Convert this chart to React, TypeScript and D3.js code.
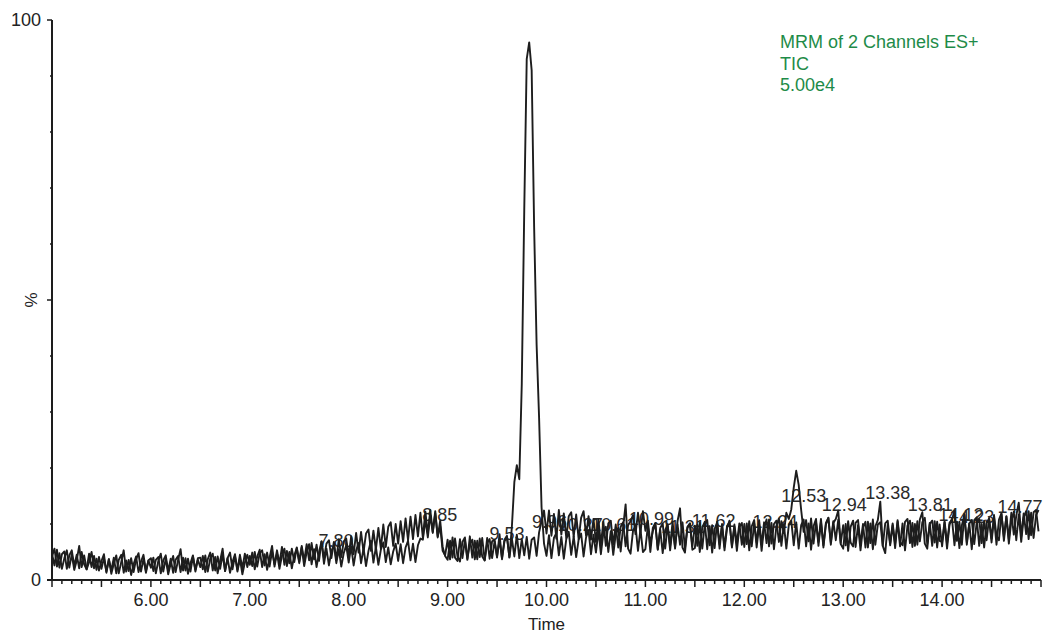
import React from "react";
import * as d3 from "d3";

// ---- data ----
const T0 = 5.0;
const STEP = 0.025;

// Channel 1 (% of 5.00e4), sampled every 0.025 min from 5.00
const channelA: number[] = [
  4.2,5.6,2.4,4.8,2.0,3.9,5.3,2.2,4.6,1.8,3.5,6.1,2.3,4.4,1.9,3.2,5.0,2.1,3.8,1.7,
  3.4,4.6,1.3,3.7,1.1,2.9,4.4,1.2,3.2,5.3,1.5,3.6,0.9,2.8,4.2,1.4,3.3,4.5,1.6,3.5,
  2.2,4.0,1.2,3.4,4.7,1.5,3.8,1.0,2.9,4.3,1.4,3.6,5.5,1.7,3.9,1.1,3.0,4.4,1.5,3.6,
  2.3,4.3,1.4,3.7,4.9,1.7,4.1,1.2,3.4,5.6,1.6,3.9,1.3,3.2,4.6,1.5,3.8,1.0,3.1,4.5,
  2.7,4.9,1.9,4.2,5.4,2.3,4.6,1.8,4.0,6.1,2.4,4.8,2.0,4.3,5.6,2.5,5.0,2.1,4.4,5.7,
  3.0,5.8,2.5,5.0,6.4,2.8,5.5,2.3,4.9,6.9,2.9,5.6,2.6,5.1,6.3,3.0,5.5,2.4,4.8,6.2,
  3.1,6.0,2.6,5.3,6.6,3.0,5.7,2.5,5.2,7.0,3.1,5.9,2.7,5.4,6.7,3.2,5.8,2.8,5.1,6.5,
  3.4,6.4,3.0,5.8,7.0,3.5,6.5,3.2,6.2,7.4,7.2,10.8,7.6,11.6,8.4,11.9,7.6,10.6,5.9,4.3,
  3.6,7.0,4.0,7.4,4.2,3.3,6.8,7.6,3.8,6.4,7.2,3.7,7.0,4.1,7.5,3.5,6.6,7.3,3.9,6.9,
  4.2,7.1,3.9,6.9,7.6,4.1,9.5,17.5,20.5,18.0,35,66,93,96,91,63,42,29,13,6.5,
  4.3,8.0,3.9,7.5,8.4,4.4,7.7,3.8,7.3,8.6,4.5,7.8,4.1,7.2,8.3,4.2,7.6,8.9,4.6,8.1,
  4.9,8.9,4.6,8.4,9.5,5.0,8.7,4.5,8.2,9.3,5.1,9.5,13.5,5.6,4.7,8.8,9.7,5.2,9.1,5.0,
  5.5,9.7,5.0,9.3,10.2,5.4,9.0,4.8,8.9,9.9,5.3,9.4,5.6,10.5,12.8,5.8,4.9,9.3,10.1,5.4,
  5.7,9.9,5.0,9.4,10.4,5.5,9.6,4.9,9.1,10.3,5.6,9.8,5.3,9.2,10.6,5.8,9.5,5.2,9.4,10.2,
  5.9,10.1,5.3,9.6,10.7,5.8,9.9,5.2,9.4,10.8,6.0,10.2,5.5,9.7,11.0,6.1,10.0,5.6,9.8,10.6,
  6.2,10.3,5.6,9.8,10.8,6.0,10.1,5.4,9.6,10.9,6.1,10.4,5.8,9.9,11.1,6.3,10.2,10.9,12.4,6.4,
  5.6,10.0,5.2,9.5,10.6,5.9,9.8,5.3,9.3,10.4,5.8,10.1,5.5,9.6,10.7,14.0,6.1,4.8,9.9,6.2,
  9.8,5.7,10.4,6.0,10.1,5.3,9.7,10.6,5.9,10.0,6.3,10.8,12.1,6.5,5.6,10.2,6.1,10.5,5.8,9.9,
  6.0,10.3,5.6,9.9,10.9,6.2,10.4,5.7,9.8,11.6,6.3,10.1,5.5,10.7,11.2,6.1,10.0,5.8,10.2,11.0,
  6.7,11.1,6.3,10.8,11.9,7.0,11.4,6.5,10.6,12.2,7.1,11.7,6.8,11.2,12.3,7.3,12.0,7.5,11.6,12.5,
];

// Channel 2
const channelB: number[] = [
  4.7,2.6,5.4,2.2,4.6,5.1,2.0,4.4,5.3,2.5,4.5,2.1,5.0,2.8,1.9,4.7,2.3,4.3,1.8,4.1,
  2.0,3.9,1.5,3.7,1.7,4.0,1.2,3.6,4.5,1.3,3.5,1.6,3.9,1.4,3.7,4.8,1.5,3.8,1.3,3.5,
  3.9,1.6,3.6,4.1,1.2,3.5,4.4,1.6,3.8,1.3,3.6,4.3,1.4,4.0,1.7,3.8,1.5,4.2,1.8,3.9,
  4.0,1.9,4.4,1.5,3.8,4.7,1.7,4.2,2.0,4.6,1.6,3.9,4.9,1.9,4.3,1.8,4.5,2.1,4.7,2.3,
  4.3,2.5,5.0,2.4,4.8,5.3,2.6,4.9,2.4,5.1,2.8,5.3,2.9,5.9,2.7,5.2,3.0,5.6,3.2,5.8,
  3.3,6.1,3.4,6.4,3.5,6.6,3.7,6.3,3.4,6.9,3.8,6.5,7.1,3.9,6.8,3.6,7.3,4.1,6.9,7.4,
  4.3,7.8,4.6,8.4,4.9,8.6,5.0,8.3,9.0,5.2,8.8,5.4,9.3,5.6,9.9,5.9,9.5,10.3,6.1,10.0,
  6.5,10.5,6.8,11.0,7.1,11.3,7.3,11.6,7.8,12.0,7.5,12.2,8.3,12.5,8.6,12.3,7.8,9.6,5.2,4.4,
  7.2,3.7,7.6,4.0,3.4,7.3,3.9,7.1,3.6,7.8,4.0,7.0,3.7,7.4,4.2,3.5,7.5,3.8,6.9,7.2,
  4.0,8.2,3.7,7.2,7.9,4.0,7.4,4.2,8.1,3.9,7.3,4.4,7.7,3.8,7.2,7.6,4.3,8.5,10.5,12.4,
  8.3,12.4,7.9,11.8,7.4,12.5,8.1,11.9,7.5,11.4,12.1,7.7,11.7,7.3,11.1,12.3,7.9,11.4,7.2,10.9,
  6.8,10.8,6.4,10.4,6.1,10.1,10.6,6.3,9.9,5.8,9.5,10.3,6.0,9.8,10.5,11.6,8.2,12.0,8.4,12.3,
  8.8,10.6,6.5,8.7,10.0,5.5,9.3,10.1,5.6,9.7,6.1,10.4,5.9,9.9,6.3,10.3,5.7,9.5,10.1,6.0,
  9.7,6.1,10.2,5.6,9.9,10.7,6.2,9.8,5.7,10.4,6.4,10.0,5.9,9.6,10.3,6.1,9.9,6.5,10.1,6.3,
  10.0,6.4,10.5,6.0,10.1,6.7,10.7,6.3,10.3,6.6,10.8,6.5,10.0,10.6,6.8,10.5,8.4,12.0,10.9,12.6,
  16.5,19.5,17.0,12.5,8.6,10.7,6.9,11.0,6.5,10.3,6.8,10.9,6.2,10.2,11.1,6.7,10.5,7.1,10.8,6.6,
  9.8,6.2,10.5,6.7,6.0,10.2,10.7,6.4,10.0,5.8,10.4,6.6,10.8,6.3,9.9,10.3,6.1,10.1,10.6,6.5,
  10.1,6.5,10.7,6.8,6.2,10.4,10.9,6.6,10.2,6.1,10.5,6.9,10.3,11.1,6.4,10.0,10.6,6.7,10.4,7.0,
  6.8,10.5,6.5,10.2,10.8,12.3,7.0,10.4,6.3,11.8,6.7,10.1,10.7,6.4,10.3,10.9,6.6,10.6,7.1,11.1,
  7.4,11.6,7.9,7.1,11.8,7.7,11.3,7.3,12.0,8.1,11.5,13.8,7.8,11.9,8.2,12.3,8.0,12.1,12.5,8.7,
];

// Peak labels: retention time text and label baseline level (%)
const peakTimes: string[] = ["7.80","8.85","9.53","9.96","10.27","10.61","10.99","11.31","11.62","12.24","12.53","12.94","13.38","13.81","14.12","14.23","14.77"];
const peakLevels: number[] = [5.9,10.5,7.1,9.3,8.75,8.75,9.8,8.4,9.5,9.3,13.9,12.3,14.5,12.3,10.5,10.2,12.0];

const xTickLabels: number[] = [6, 7, 8, 9, 10, 11, 12, 13, 14];
const yTickLabels: number[] = [0, 100];
const headerLines: string[] = ["MRM of 2 Channels ES+", "TIC", "5.00e4"];

const W = 1045;
const H = 634;
const M = { left: 52, right: 1041, top: 20, bottom: 580 };
const FONT = "'Liberation Sans', Arial, sans-serif";
const INK = "#1d1d1d";

export default function App() {
  const x = d3.scaleLinear().domain([5, 15]).range([M.left, M.right]);
  const y = d3.scaleLinear().domain([0, 100]).range([M.bottom, M.top]);

  const line = d3
    .line<number>()
    .x((_, i) => x(T0 + i * STEP))
    .y((v) => y(v));

  const minorX = d3.range(0, 101).map((i) => 5 + i * 0.1);
  const minorY = d3.range(0, 101, 10);

  return (
    <svg
      width={W}
      height={H}
      style={{ position: "absolute", left: 0, top: 0, background: "#fff" }}
      fontFamily={FONT}
    >
      {/* header */}
      {headerLines.map((s, i) => (
        <text key={s} x={780} y={48 + i * 21.5} fontSize={18} fill="#1e8b48">
          {s}
        </text>
      ))}

      {/* peak labels (under traces) */}
      {peakTimes.map((s, i) => (
        <text
          key={s}
          x={Math.min(x(parseFloat(s)) + 7, 1020)}
          y={y(peakLevels[i])}
          fontSize={18}
          textAnchor="middle"
          fill="#2a2a2a"
        >
          {s}
        </text>
      ))}

      {/* traces */}
      <path d={line(channelB) || ""} fill="none" stroke={INK} strokeWidth={1.9} strokeLinejoin="round" />
      <path d={line(channelA) || ""} fill="none" stroke={INK} strokeWidth={1.9} strokeLinejoin="round" />

      {/* axes */}
      <line x1={M.left} x2={M.left} y1={M.top} y2={M.bottom} stroke={INK} strokeWidth={2} />
      <line x1={47} x2={M.right} y1={M.bottom} y2={M.bottom} stroke={INK} strokeWidth={2} />
      {minorX.map((t, i) => {
        const major = i % 5 === 0;
        return (
          <line
            key={i}
            x1={x(t)}
            x2={x(t)}
            y1={M.bottom}
            y2={M.bottom + (major ? 7 : 4)}
            stroke={INK}
            strokeWidth={1.5}
          />
        );
      })}
      {xTickLabels.map((t) => (
        <text key={t} x={x(t)} y={606} fontSize={18} textAnchor="middle" fill="#222">
          {t.toFixed(2)}
        </text>
      ))}
      <text x={x(10)} y={630} fontSize={17} textAnchor="middle" fill="#222">
        Time
      </text>

      {minorY.map((v) => (
        <line
          key={v}
          x1={M.left - (v % 50 === 0 ? 5 : 2)}
          x2={M.left}
          y1={y(v)}
          y2={y(v)}
          stroke={INK}
          strokeWidth={1.5}
        />
      ))}
      {yTickLabels.map((v) => (
        <text key={v} x={41} y={y(v) + 6} fontSize={18} textAnchor="end" fill="#222">
          {v}
        </text>
      ))}
      <text
        x={0}
        y={0}
        fontSize={17}
        textAnchor="middle"
        fill="#222"
        transform={`translate(37, ${y(50)}) rotate(-90)`}
      >
        %
      </text>
    </svg>
  );
}
